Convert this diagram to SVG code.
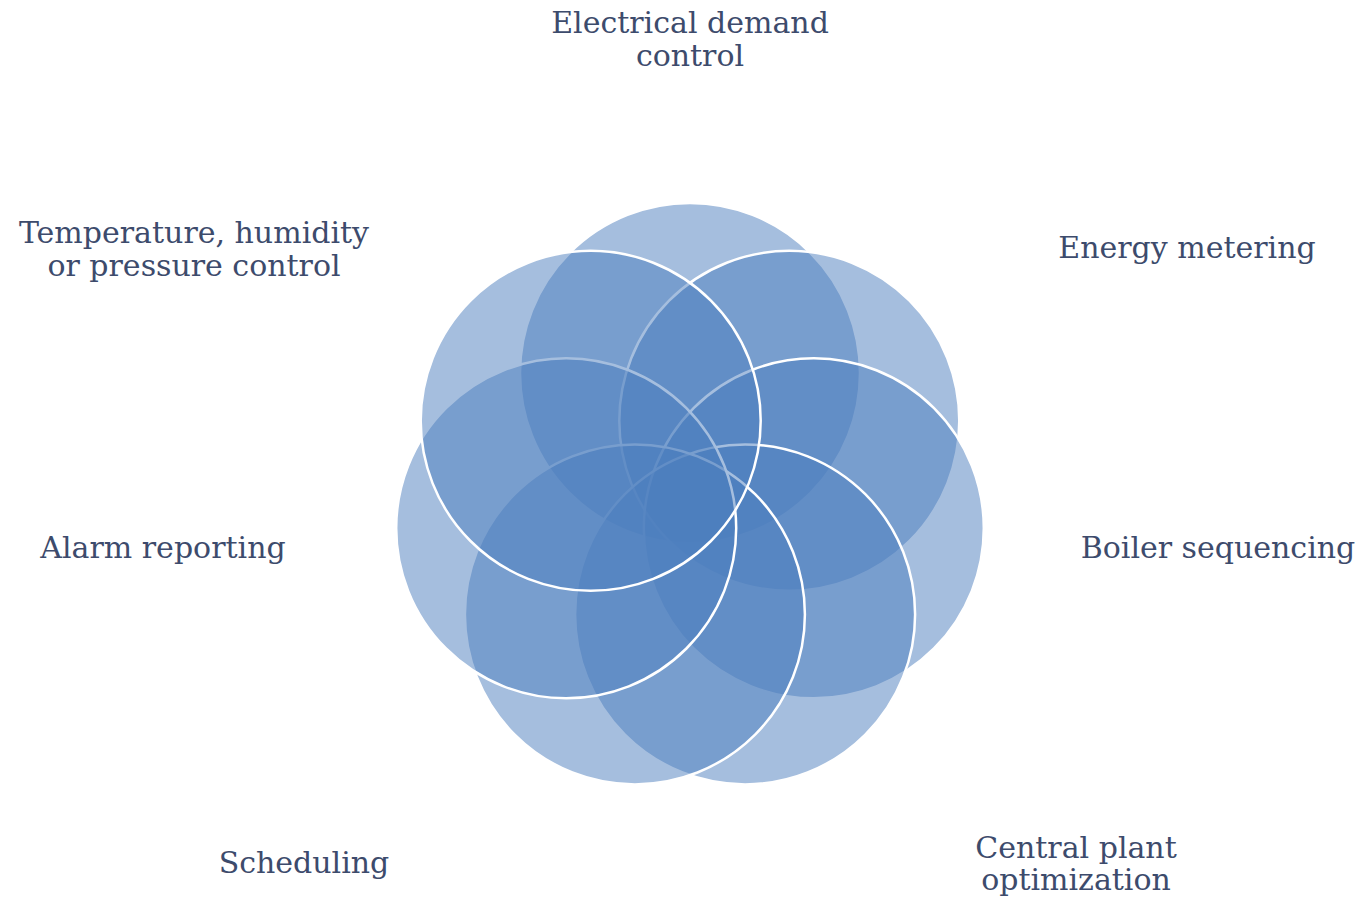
<svg xmlns="http://www.w3.org/2000/svg" width="1370" height="900" viewBox="0 0 1370 900">
  <style>
    .c { fill: #4C7DBD; fill-opacity: 0.5; stroke: #ffffff; stroke-width: 2.5; }
    .t { font-family: "DejaVu Serif", "Liberation Serif", serif; font-size: 30px; fill: #3d4b6c; text-anchor: middle; }
  </style>
  <rect width="1370" height="900" fill="#ffffff"/>
  <g id="circles">
    <g id="n1"><circle class="c" cx="690" cy="373" r="170"/></g>
    <g id="n2"><circle class="c" cx="789.3" cy="420.8" r="170"/></g>
    <g id="n3"><circle class="c" cx="813.8" cy="528.3" r="170"/></g>
    <g id="n4"><circle class="c" cx="745.1" cy="614.4" r="170"/></g>
    <g id="n5"><circle class="c" cx="634.9" cy="614.4" r="170"/></g>
    <g id="n6"><circle class="c" cx="566.2" cy="528.3" r="170"/></g>
    <g id="n7"><circle class="c" cx="590.7" cy="420.8" r="170"/></g>
  </g>
  <g id="labels">
    <g id="l1"><text class="t" x="690" y="33">Electrical demand</text><text class="t" x="690" y="66">control</text></g>
    <g id="l2"><text class="t" x="1187" y="258">Energy metering</text></g>
    <g id="l3"><text class="t" x="1218" y="558">Boiler sequencing</text></g>
    <g id="l4"><text class="t" x="1076" y="858">Central plant</text><text class="t" x="1076" y="890">optimization</text></g>
    <g id="l5"><text class="t" x="304" y="873">Scheduling</text></g>
    <g id="l6"><text class="t" x="163" y="558">Alarm reporting</text></g>
    <g id="l7"><text class="t" x="194" y="243">Temperature, humidity</text><text class="t" x="194" y="276">or pressure control</text></g>
  </g>
  <g id="connectors"/>
</svg>
